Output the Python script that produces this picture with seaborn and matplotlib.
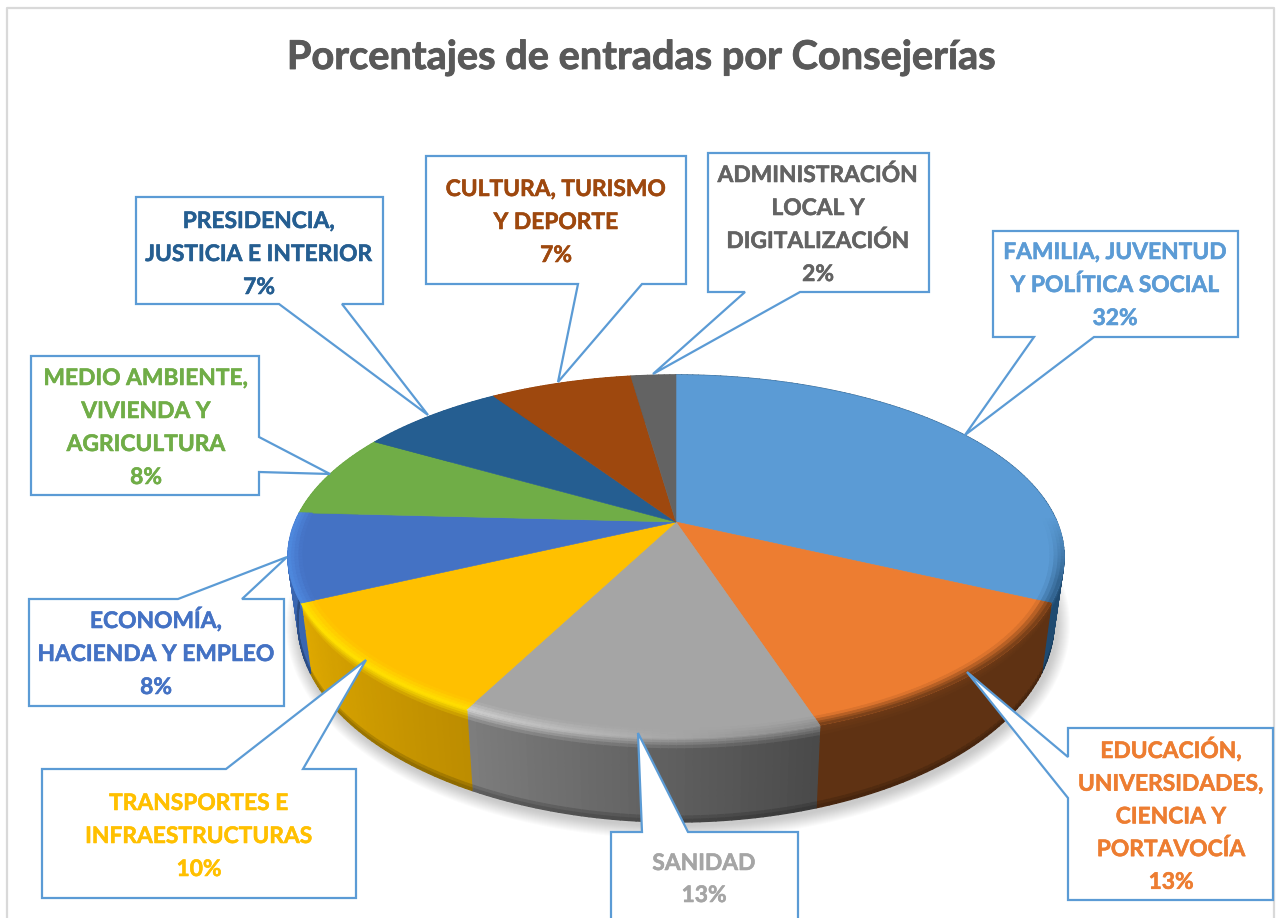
import numpy as np
import seaborn as sns
from matplotlib import pyplot as plt
from matplotlib import patheffects as pe
from matplotlib.collections import PolyCollection
from matplotlib.colors import to_rgb

# data
title = "Porcentajes de entradas por Consejerías"
names = ["FAMILIA, JUVENTUD\nY POLÍTICA SOCIAL",
         "EDUCACIÓN,\nUNIVERSIDADES,\nCIENCIA Y\nPORTAVOCÍA",
         "SANIDAD",
         "TRANSPORTES E\nINFRAESTRUCTURAS",
         "ECONOMÍA,\nHACIENDA Y EMPLEO",
         "MEDIO AMBIENTE,\nVIVIENDA Y\nAGRICULTURA",
         "PRESIDENCIA,\nJUSTICIA E INTERIOR",
         "CULTURA, TURISMO\nY DEPORTE",
         "ADMINISTRACIÓN\nLOCAL Y\nDIGITALIZACIÓN"]
values = [32.0, 13.0, 12.55, 10.45, 7.85, 7.5, 7.3, 7.1, 2.25]
percents = ["32%", "13%", "13%", "10%", "8%", "8%", "7%", "7%", "2%"]
colors = ["#5b9bd5", "#ed7d31", "#a5a5a5", "#ffc000", "#4472c4",
          "#70ad47", "#255e91", "#9e480e", "#636363"]

# layout in pixels
W, H = 1276, 918
CX, CY = 676, 522
A, B, K = 381, 175, 0.19      # perspective of the top face
TOP_C, TOP_RX, TOP_RY = 556.5, 388, 181.5
BOT_C, BOT_RX, BOT_RY = 622, 378, 200
LINE = "#5b9bd5"

# callouts: outline, text centre x, baseline of first line, line step
callouts = [
    ([(993, 231), (1238, 231), (1238, 337), (1094, 337), (965, 435), (1034, 337), (993, 337)], 1115, 259, 33),
    ([(1068, 728), (1273, 728), (1273, 900), (1068, 900), (1068, 798), (967, 672), (1068, 757)], 1171, 758, 32.7),
    ([(611, 832), (642, 832), (638, 733), (688, 832), (798, 832), (798, 930), (611, 930)], 704, 870, 32),
    ([(42, 769), (226, 769), (366, 660), (303, 769), (356, 769), (356, 898), (42, 898)], 199, 810, 33),
    ([(29, 599), (178, 599), (287, 557), (242, 599), (284, 599), (284, 706), (29, 706)], 156, 628, 33),
    ([(31, 356), (259, 356), (259, 437), (330, 474), (259, 472), (259, 495), (31, 495)], 146, 385, 33),
    ([(136, 197), (383, 197), (383, 304), (342, 304), (428, 415), (279, 304), (136, 304)], 259, 228, 33),
    ([(426, 156), (686, 156), (686, 284), (642, 284), (558, 382), (578, 284), (426, 284)], 556, 196, 33),
    ([(708, 153), (929, 153), (929, 292), (800, 292), (653, 374), (745, 292), (708, 292)], 818, 182, 33),
]

# wall colours per slice: (side at start angle, side at end angle, rim at start, rim at end)
walls = [
    ("#1f4a70", "#1f4a70", "#2f5f8a", "#2f5f8a"),
    ("#5f3213", "#5f3213", "#6e3a16", "#6e3a16"),
    ("#4a4a4a", "#7e7e7e", "#8a8a8a", "#d2d2d2"),
    ("#bd8d00", "#dfa900", "#ffe000", "#ffe400"),
    ("#3a66b0", "#3a66b0", "#4f8ae0", "#4f8ae0"),
    ("#4f7d32", "#4f7d32", "#70ad47", "#70ad47"),
    ("#1a4266", "#1a4266", "#255e91", "#255e91"),
    ("#6f330a", "#6f330a", "#9e480e", "#9e480e"),
    ("#464646", "#464646", "#636363", "#636363"),
]

sns.set_theme(style="white")
plt.rcParams["font.family"] = ["Lato", "DejaVu Sans"]


def face(theta, r=1.0):
    # theta clockwise from the top, degrees; perspective keeps the apex off the ellipse centre
    t = np.radians(theta)
    u, v = r * np.sin(t), r * np.cos(t)
    d = 1 + K * v
    return CX + A * u / d, CY - B * v / d


def base(theta):
    x, y = face(theta)
    return CX + (x - CX) * BOT_RX / TOP_RX, BOT_C + (y - TOP_C) * BOT_RY / TOP_RY


def mix(c1, c2, f):
    return tuple(np.array(to_rgb(c1)) * (1 - f) + np.array(to_rgb(c2)) * f)


fig = plt.figure(figsize=(W / 100, H / 100), dpi=100)
ax = fig.add_axes([0, 0, 1, 1])
ax.set_xlim(0, W)
ax.set_ylim(H, 0)
ax.axis("off")

# chart frame
ax.plot([7, 7, 1274, 1274], [H + 5, 8, 8, H + 5], color="#d9d9d9", lw=1.6, zorder=0)

# soft shadow below the pie
tt = np.radians(np.arange(0, 361, 2))
for i in range(14):
    grow = 14 - i
    ax.fill(CX + 2 + (BOT_RX + grow) * np.cos(tt), BOT_C + 3 + (BOT_RY + grow) * np.sin(tt),
            color="#555555", alpha=0.022, lw=0, zorder=1)

edges = np.concatenate([[0], np.cumsum(values)]) * 360 / np.sum(values)
rows = np.array([0, 0.03, 0.06, 0.09, 0.13, 0.2, 0.4, 0.7, 0.93, 0.97, 1.0])

# side wall
polys, cols = [], []
for i in range(len(values)):
    steps = np.arange(edges[i], edges[i + 1], 1.0).tolist() + [edges[i + 1]]
    for a0, a1 in zip(steps[:-1], steps[1:]):
        f = (a0 - edges[i]) / (edges[i + 1] - edges[i])
        side = mix(walls[i][0], walls[i][1], f)
        rim = mix(walls[i][2], walls[i][3], f)
        x0, y0 = face(a0)
        x1, y1 = face(a1)
        bx0, by0 = base(a0)
        bx1, by1 = base(a1)
        for t0, t1 in zip(rows[:-1], rows[1:]):
            polys.append([(x0 + (bx0 - x0) * t0, y0 + (by0 - y0) * t0),
                          (x1 + (bx1 - x1) * t0, y1 + (by1 - y1) * t0),
                          (x1 + (bx1 - x1) * t1, y1 + (by1 - y1) * t1),
                          (x0 + (bx0 - x0) * t1, y0 + (by0 - y0) * t1)])
            tm = (t0 + t1) / 2
            c = mix(rim, side, min(tm / 0.14, 1))
            if tm > 0.9:
                c = mix(c, "#000000", (tm - 0.9) * 3)
            cols.append(c)
ax.add_collection(PolyCollection(polys, facecolors=cols, edgecolors=cols, linewidths=1.0, zorder=2))

# top face
for i in range(len(values)):
    th = np.linspace(edges[i], edges[i + 1], 90)
    x, y = face(th)
    ax.fill(np.r_[CX, x], np.r_[CY, y], color=colors[i], lw=0.4, zorder=3)

# bevel where the face meets the wall
polys, cols = [], []
radii = np.array([0.965, 0.975, 0.985, 0.993, 1.0])
for i in range(5):
    steps = np.arange(edges[i], edges[i + 1], 1.0).tolist() + [edges[i + 1]]
    for a0, a1 in zip(steps[:-1], steps[1:]):
        f = (a0 - edges[i]) / (edges[i + 1] - edges[i])
        rim = mix(walls[i][2], walls[i][3], f)
        # the band only shows on the front of the pie
        fade = np.clip((a0 - 88) / 20, 0, 1)
        if fade == 0:
            continue
        for r0, r1 in zip(radii[:-1], radii[1:]):
            x00, y00 = face(a0, r0)
            x01, y01 = face(a1, r0)
            x11, y11 = face(a1, r1)
            x10, y10 = face(a0, r1)
            polys.append([(x00, y00), (x01, y01), (x11, y11), (x10, y10)])
            k = ((r0 + r1) / 2 - 0.965) / 0.035
            cols.append(mix(colors[i], rim, k * fade))
ax.add_collection(PolyCollection(polys, facecolors=cols, edgecolors=cols, linewidths=0.6, zorder=4))

# callouts and their labels
for i, (outline, tx, ty, step) in enumerate(callouts):
    xs = [p[0] for p in outline]
    ys = [p[1] for p in outline]
    ax.fill(xs, ys, facecolor="white", edgecolor=LINE, lw=1.6, joinstyle="miter", zorder=5)
    lines = names[i].split("\n") + [percents[i]]
    for j, txt in enumerate(lines):
        t = ax.text(tx, ty + j * step, txt, color=colors[i], fontsize=16.4, fontweight="bold",
                    ha="center", va="baseline", zorder=6)
        t.set_path_effects([pe.withStroke(linewidth=0.4, foreground=colors[i])])

t = ax.text(641, 69, title, color="#595959", fontsize=28.6, fontweight="bold",
            ha="center", va="baseline", zorder=6)
t.set_path_effects([pe.withStroke(linewidth=0.6, foreground="#595959")])

fig.savefig("out.png", dpi=100, facecolor="white")
